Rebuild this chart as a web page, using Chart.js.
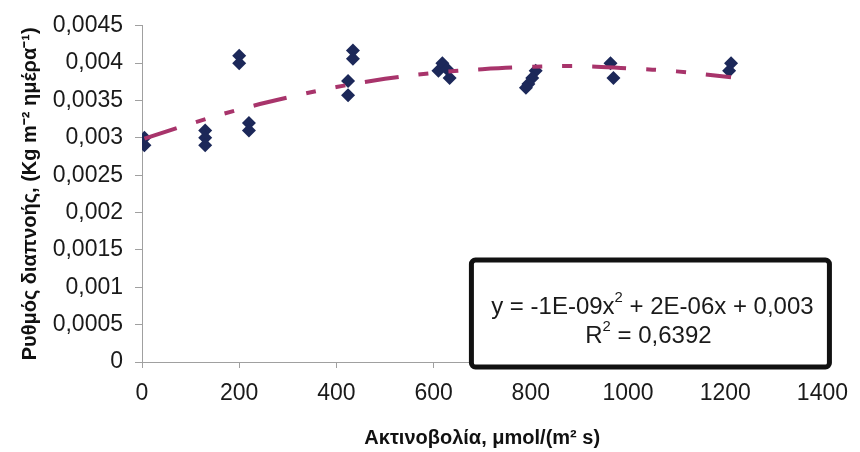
<!DOCTYPE html>
<html>
<head>
<meta charset="utf-8">
<script src="https://cdn.jsdelivr.net/npm/chart.js@4"></script>
<style>
  body { margin: 0; background: #fff; }
  #wrap { width: 860px; height: 452px; position: relative; }
</style>
</head>
<body>
<div id="wrap"><canvas id="transChart"></canvas></div>
<script>
// measured points: radiation (µmol/(m2 s)) vs transpiration rate
const radiation = [5, 5, 130, 130, 130, 200, 200, 220, 220, 424, 424, 434, 434,
    610, 618, 628, 633, 810, 803, 795, 790, 964, 970, 1212, 1208];
const transpiration = [0.0030, 0.0029, 0.0031, 0.0030, 0.0029, 0.0041, 0.0040, 0.0032, 0.0031,
    0.00376, 0.00357, 0.00417, 0.00406, 0.0039, 0.0040, 0.00392, 0.0038,
    0.0039, 0.0038, 0.00372, 0.00367, 0.0040, 0.0038, 0.0040, 0.0039];

// polynomial trendline
const trendX = [5, 100, 200, 300, 400, 500, 600, 700, 800, 900, 1000, 1100, 1212];
const trendY = [0.00299, 0.00319, 0.00338, 0.00354, 0.00368, 0.00379, 0.00387,
    0.00392, 0.00395, 0.00396, 0.00393, 0.00389, 0.00381];

const xTicks = [0, 200, 400, 600, 800, 1000, 1200, 1400];
const yTicks = [0, 0.0005, 0.001, 0.0015, 0.002, 0.0025, 0.003, 0.0035, 0.004, 0.0045];

const eqParts = [['y = -1E-09x', false], ['2', true], [' + 2E-06x + 0,003', false]];
const r2Parts = [['R', false], ['2', true], [' = 0,6392', false]];

const FONT = "'Liberation Sans', Arial, sans-serif";
const comma = v => String(+Number(v).toFixed(4)).replace('.', ',');

function partsWidth(ctx, parts, size) {
    let w = 0;
    parts.forEach(([t, sup]) => {
        ctx.font = (sup ? size * 0.62 : size) + 'px ' + FONT;
        w += ctx.measureText(t).width;
    });
    return w;
}

function drawParts(ctx, parts, cx, cy, size) {
    let x = cx - partsWidth(ctx, parts, size) / 2;
    ctx.textBaseline = 'middle';
    ctx.textAlign = 'left';
    parts.forEach(([t, sup]) => {
        ctx.font = (sup ? size * 0.62 : size) + 'px ' + FONT;
        ctx.fillText(t, x, sup ? cy - size * 0.38 : cy);
        x += ctx.measureText(t).width;
    });
}

const equationBox = {
    id: 'equationBox',
    afterDraw(chart) {
        const ctx = chart.ctx;
        const a = chart.chartArea;
        const x0 = a.right - 351, x1 = a.right + 7;
        const y0 = a.bottom - 102, y1 = a.bottom + 5;
        ctx.save();
        ctx.beginPath();
        ctx.roundRect(x0, y0, x1 - x0, y1 - y0, 4);
        ctx.fillStyle = '#fff';
        ctx.fill();
        ctx.lineWidth = 5;
        ctx.strokeStyle = '#111';
        ctx.stroke();
        ctx.fillStyle = '#1a1a1a';
        const cx = (x0 + x1) / 2;
        drawParts(ctx, eqParts, cx + 2, y0 + 47, 24);
        drawParts(ctx, r2Parts, cx - 2, y0 + 76, 24);
        ctx.restore();
    }
};

const ctx = document.getElementById('transChart').getContext('2d');

new Chart(ctx, {
    type: 'scatter',
    data: {
        datasets: [
            {
                type: 'line',
                data: trendX.map((x, i) => ({ x: x, y: trendY[i] })),
                borderColor: '#a8346b',
                borderWidth: 4,
                borderDash: [34, 20, 10, 20, 10, 20],
                pointRadius: 0,
                tension: 0.4,
                fill: false,
                order: 0
            },
            {
                data: radiation.map((x, i) => ({ x: x, y: transpiration[i] })),
                pointStyle: 'rectRot',
                pointRadius: 7,
                backgroundColor: '#1c2859',
                borderColor: '#1c2859',
                borderWidth: 0,
                order: 1
            }
        ]
    },
    options: {
        responsive: true,
        maintainAspectRatio: false,
        animation: false,
        layout: { padding: { top: 25, right: 29, left: 0, bottom: 0 } },
        plugins: {
            legend: { display: false },
            tooltip: { enabled: false }
        },
        scales: {
            x: {
                type: 'linear',
                min: 0,
                max: 1400,
                afterBuildTicks: s => { s.ticks = xTicks.map(v => ({ value: v })); },
                afterFit: s => { s.height = 90; },
                grid: { drawOnChartArea: false, tickLength: 6, color: '#a0a0a0' },
                border: { color: '#a0a0a0', width: 1 },
                ticks: {
                    font: { family: FONT, size: 23 },
                    color: '#1a1a1a',
                    padding: 12,
                    maxRotation: 0,
                    callback: v => comma(v)
                },
                title: {
                    display: true,
                    text: 'Ακτινοβολία, μmol/(m² s)',
                    font: { family: FONT, size: 20, weight: 'bold' },
                    color: '#111',
                    padding: { top: 4, bottom: 2 }
                }
            },
            y: {
                min: 0,
                max: 0.0045,
                afterBuildTicks: s => { s.ticks = yTicks.map(v => ({ value: v })); },
                afterFit: s => { s.width = 142; },
                grid: { drawOnChartArea: false, tickLength: 7, color: '#a0a0a0' },
                border: { color: '#a0a0a0', width: 1 },
                ticks: {
                    font: { family: FONT, size: 23 },
                    color: '#1a1a1a',
                    padding: 12,
                    callback: v => comma(v)
                },
                title: {
                    display: true,
                    text: 'Ρυθμός διαπνοής, (Kg m⁻² ημέρα⁻¹)',
                    font: { family: FONT, size: 20, weight: 'bold' },
                    color: '#111',
                    padding: { top: 18, bottom: 0 }
                }
            }
        }
    },
    plugins: [equationBox]
});
</script>
</body>
</html>
